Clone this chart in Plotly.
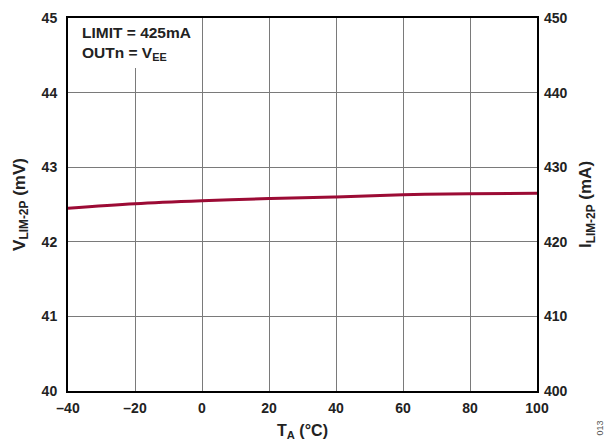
import plotly.graph_objects as go

# Limit voltage versus ambient temperature
temp_c = [-40, -20, 0, 20, 40, 60, 80, 100]
v_lim_mv = [42.45, 42.51, 42.55, 42.58, 42.60, 42.63, 42.645, 42.65]
# equivalent limit current through the 0.1-ohm sense resistor
i_lim_ma = [v * 10 for v in v_lim_mv]

x_ticks = [-40, -20, 0, 20, 40, 60, 80, 100]
x_tick_text = ["\u201340", "\u201320", "0", "20", "40", "60", "80", "100"]
y_ticks = [40, 41, 42, 43, 44, 45]
y2_ticks = [400, 410, 420, 430, 440, 450]

FONT = "Liberation Sans, Arial, sans-serif"
tick_font = dict(family=FONT, size=14, color="#222", weight="bold")
title_font = dict(family=FONT, size=17, color="#222", weight="bold")

fig = go.Figure()
fig.add_trace(go.Scatter(
    x=temp_c, y=v_lim_mv, mode="lines",
    line=dict(color="#9c0b35", width=3, shape="spline"),
    showlegend=False, hoverinfo="skip",
))
# same curve expressed in mA on the right-hand axis (drawn underneath)
fig.add_trace(go.Scatter(
    x=temp_c, y=i_lim_ma, yaxis="y2", mode="lines",
    line=dict(color="rgba(0,0,0,0)", width=0),
    showlegend=False, hoverinfo="skip",
))

# white panel behind the condition text
fig.add_shape(type="rect", xref="x", yref="y", x0=-40, x1=-10, y0=44.33, y1=45,
              fillcolor="white", line=dict(width=0), layer="between")

fig.add_annotation(
    xref="paper", yref="paper", x=0.026, y=0.99, xanchor="left", yanchor="top",
    text="<b>LIMIT = 425mA<br>OUTn = V<sub>EE</sub></b>", showarrow=False, align="left",
    font=dict(family=FONT, size=15.5, color="#222"),
)
fig.add_annotation(
    xref="paper", yref="paper", x=1.135, y=-0.1, xanchor="center", yanchor="middle",
    text="013", textangle=-90, showarrow=False,
    font=dict(family=FONT, size=9, color="#555"),
)

fig.update_layout(
    width=616, height=442,
    margin=dict(l=68, r=79, t=18, b=51),
    paper_bgcolor="white", plot_bgcolor="white",
    xaxis=dict(
        range=[-40, 100], tickvals=x_ticks, ticktext=x_tick_text,
        showgrid=True, gridcolor="#7a7a7a", gridwidth=1,
        showline=True, linecolor="black", linewidth=2, mirror=True,
        ticks="", tickfont=tick_font, zeroline=False, ticklabelstandoff=3,
        automargin=False,
        title=dict(text="T<sub>A</sub> (°C)", font=dict(title_font, size=16), standoff=10),
    ),
    yaxis=dict(
        range=[40, 45], tickvals=y_ticks,
        showgrid=True, gridcolor="#7a7a7a", gridwidth=1,
        showline=True, linecolor="black", linewidth=2, mirror=True,
        ticks="", tickfont=tick_font, zeroline=False, ticklabelstandoff=6,
        automargin=False,
        title=dict(text="V<sub>LIM-2P</sub> (mV)", font=title_font, standoff=12),
    ),
    yaxis2=dict(
        range=[400, 450], tickvals=y2_ticks, overlaying="y", side="right",
        showgrid=False, showline=False, ticks="", tickfont=tick_font,
        zeroline=False, ticklabelstandoff=6, automargin=False,
        title=dict(text="I<sub>LIM-2P</sub> (mA)", font=title_font, standoff=12),
    ),
)

fig.write_html("out.html")
